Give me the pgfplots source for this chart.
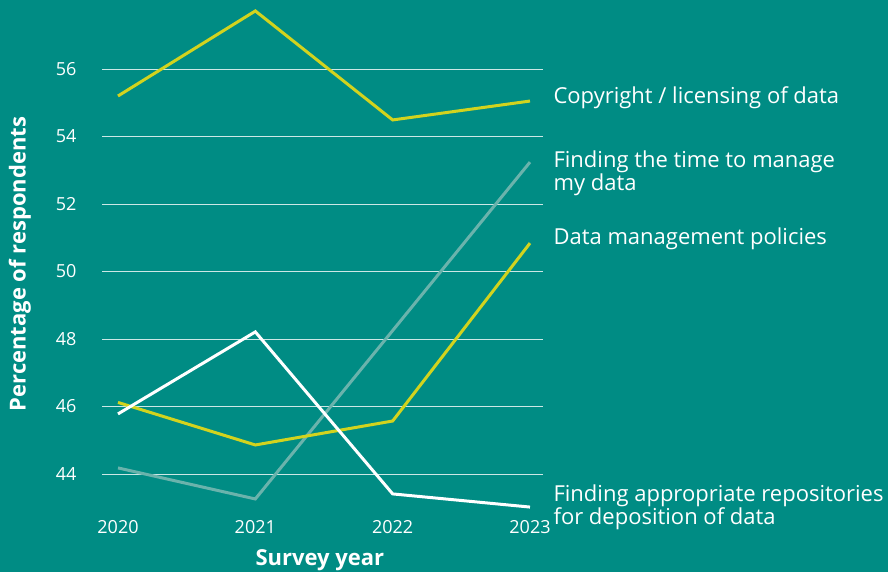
\documentclass[border=0pt]{standalone}
\usepackage{pgfplots}
\pgfplotsset{compat=1.18}
\usepackage{fontspec}
\setmainfont{Open Sans}
\definecolor{bg}{HTML}{008C84}
\definecolor{ylw}{HTML}{D2D31E}
\definecolor{gry}{HTML}{6AB3AC}
\begin{document}
\begin{tikzpicture}[x=1pt,y=1pt]
\fill[bg] (0,0) rectangle (888,572);
\useasboundingbox (0,0) rectangle (888,572);
\begin{axis}[
  at={(102pt,52pt)}, anchor=south west,
  scale only axis, width=441pt, height=512pt,
  xmin=2019.8835, xmax=2023.0947,
  ymin=42.637, ymax=57.807,
  clip=false,
  axis line style={draw=none},
  tick style={draw=none},
  xtick={2020,2021,2022,2023},
  ytick={44,46,48,50,52,54,56},
  ymajorgrids,
  grid style={white, opacity=0.8, line width=0.9pt},
  /pgf/number format/1000 sep={},
  /pgf/number format/assume math mode=true,
  ticklabel style={font=\fontsize{18}{20}\selectfont, text=white},
  xticklabel style={anchor=base, yshift=-14pt},
  yticklabel style={anchor=east, xshift=-22pt},
  xlabel={Survey year},
  ylabel={Percentage of respondents},
  label style={font=\fontsize{22}{24}\selectfont\bfseries, text=white},
  xlabel style={at={(axis description cs:0.494,-0.078)}, anchor=center},
  ylabel style={at={(axis description cs:-0.186,0.5)}, anchor=center},
]
\addplot[ylw, line width=3pt] coordinates {(2020,55.20) (2021,57.72) (2022,54.49) (2023,55.05)};
\addplot[gry, line width=3pt] coordinates {(2020,44.18) (2021,43.26) (2022,48.25) (2023,53.24)};
\addplot[ylw, line width=3pt] coordinates {(2020,46.12) (2021,44.86) (2022,45.57) (2023,50.84)};
\addplot[white, line width=3pt] coordinates {(2020,45.78) (2021,48.21) (2022,43.41) (2023,43.02)};
\begin{scope}[every node/.style={anchor=west, align=left, text=white, inner sep=0pt, font=\fontsize{22}{23}\selectfont}]
\node at (axis cs:2023.17,55.14) {Copyright / licensing of data};
\node at (axis cs:2023.17,52.92) {Finding the time to manage\\my data};
\node at (axis cs:2023.17,50.96) {Data management policies};
\node at (axis cs:2023.17,43.02) {Finding appropriate repositories\\for deposition of data};
\end{scope}
\end{axis}
\end{tikzpicture}
\end{document}
